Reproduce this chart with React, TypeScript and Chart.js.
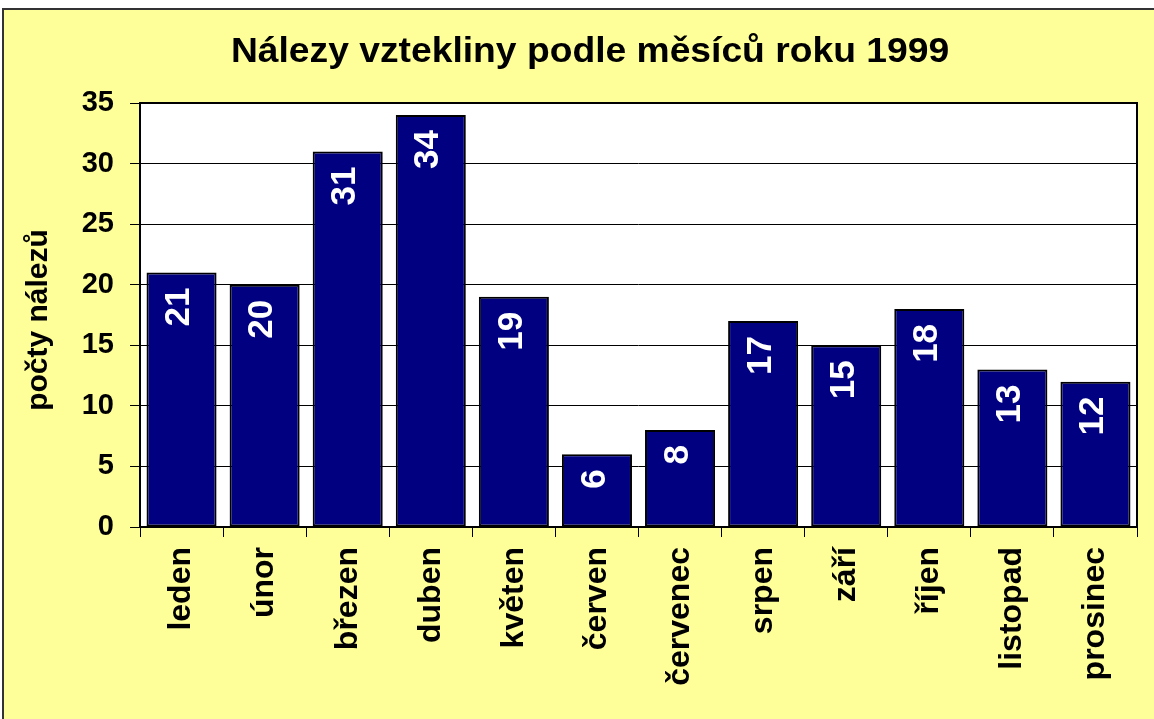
import React, { useEffect, useRef } from "react";
import { Chart, registerables } from "chart.js";

Chart.register(...registerables);

const TITLE = "Nálezy vztekliny podle měsíců roku 1999";
const Y_TITLE = "počty nálezů";
const MONTHS = ["leden", "únor", "březen", "duben", "květen", "červen", "červenec", "srpen", "září", "říjen", "listopad", "prosinec"];
const COUNTS = [21, 20, 31, 34, 19, 6, 8, 17, 15, 18, 13, 12];
const Y_MIN = 0;
const Y_MAX = 35;
const Y_STEP = 5;

const FONT = "'Liberation Sans', Arial, sans-serif";
const W = 1154;
const H = 719;

const decorPlugin = {
  id: "decor",
  beforeDraw(chart: any) {
    const ctx = chart.ctx;
    const a = chart.chartArea;
    ctx.save();
    ctx.fillStyle = "#ffffff";
    ctx.fillRect(0, 0, W, H);
    ctx.fillStyle = "#FFFF99";
    ctx.fillRect(3, 9, W, H);
    ctx.strokeStyle = "#333333";
    ctx.lineWidth = 2;
    ctx.beginPath();
    ctx.moveTo(3, H + 5);
    ctx.lineTo(3, 9);
    ctx.lineTo(W + 5, 9);
    ctx.stroke();
    ctx.fillStyle = "#ffffff";
    ctx.fillRect(a.left, a.top, a.right - a.left, a.bottom - a.top);
    // title
    ctx.fillStyle = "#000000";
    ctx.save();
    ctx.translate(590, 62);
    ctx.scale(1.064, 1);
    ctx.font = `bold 35px ${FONT}`;
    ctx.textAlign = "center";
    ctx.textBaseline = "alphabetic";
    ctx.fillText(TITLE, 0, 0);
    ctx.restore();
    // y title
    ctx.save();
    ctx.translate(47, 320);
    ctx.rotate(-Math.PI / 2);
    ctx.font = `bold 30px ${FONT}`;
    ctx.textAlign = "center";
    ctx.textBaseline = "alphabetic";
    ctx.fillText(Y_TITLE, 0, 0);
    ctx.restore();
    ctx.restore();
  },
  afterDatasetsDraw(chart: any) {
    const ctx = chart.ctx;
    const a = chart.chartArea;
    const meta = chart.getDatasetMeta(0);
    ctx.save();
    ctx.fillStyle = "#ffffff";
    ctx.font = `bold 35px ${FONT}`;
    ctx.textAlign = "right";
    ctx.textBaseline = "middle";
    meta.data.forEach((bar: any, i: number) => {
      ctx.save();
      ctx.translate(bar.x, bar.y + 15);
      ctx.rotate(-Math.PI / 2);
      ctx.fillText(String(COUNTS[i]), 0, -2);
      ctx.restore();
    });
    ctx.strokeStyle = "#000000";
    ctx.lineWidth = 2;
    ctx.strokeRect(a.left, a.top, a.right - a.left, a.bottom - a.top);
    ctx.restore();
  },
};

export default function App() {
  const ref = useRef<HTMLCanvasElement | null>(null);
  useEffect(() => {
    document.body.style.margin = "0";
    if (!ref.current) return;
    const chart = new Chart(ref.current, {
      type: "bar",
      data: {
        labels: MONTHS,
        datasets: [
          {
            data: COUNTS,
            backgroundColor: "#000080",
            borderColor: "#000000",
            borderWidth: 2,
            borderSkipped: false,
            categoryPercentage: 1,
            barPercentage: 0.843,
          },
        ],
      },
      options: {
        animation: false,
        responsive: false,
        devicePixelRatio: 1,
        layout: { padding: { top: 103, right: 17, left: 0, bottom: 0 } },
        plugins: { legend: { display: false }, tooltip: { enabled: false }, title: { display: false } },
        scales: {
          x: {
            afterFit(scale: any) {
              scale.height = H - 527;
            },
            grid: {
              offset: true,
              drawOnChartArea: false,
              drawTicks: true,
              tickLength: 10,
              color: "#000000",
              lineWidth: 1,
            },
            border: { display: false },
            ticks: {
              autoSkip: false,
              minRotation: 90,
              maxRotation: 90,
              padding: 10,
              color: "#000000",
              font: { family: FONT, size: 32, weight: "bold" },
            },
          },
          y: {
            min: Y_MIN,
            max: Y_MAX,
            afterFit(scale: any) {
              scale.width = 140;
            },
            grid: {
              color: "#000000",
              lineWidth: 1,
              tickLength: 10,
              drawTicks: true,
            },
            border: { display: false },
            ticks: {
              stepSize: Y_STEP,
              padding: 16,
              color: "#000000",
              font: { family: FONT, size: 29, weight: "bold" },
            },
          },
        },
      },
      plugins: [decorPlugin],
    });
    return () => chart.destroy();
  }, []);
  return (
    <div style={{ width: W, height: H }}>
      <canvas ref={ref} width={W} height={H} style={{ display: "block" }} />
    </div>
  );
}
